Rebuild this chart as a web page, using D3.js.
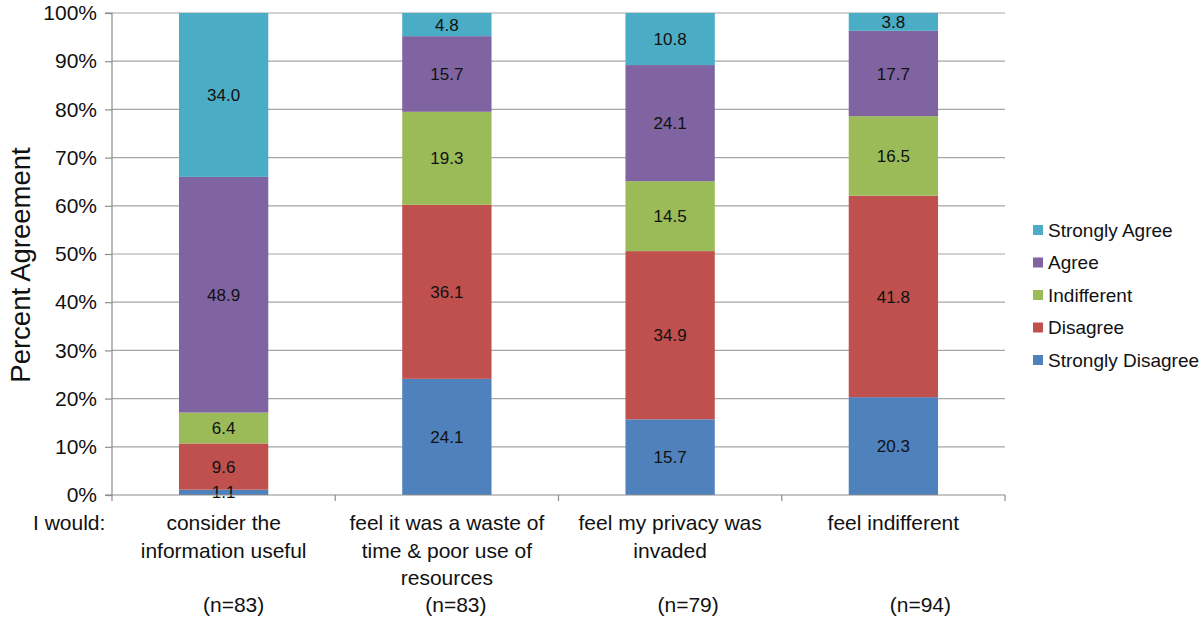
<!DOCTYPE html>
<html><head><meta charset="utf-8">
<script src="https://cdn.jsdelivr.net/npm/d3@7"></script>
<style>
html,body{margin:0;padding:0;background:#fff;}
text{font-family:"Liberation Sans",Arial,Helvetica,sans-serif;fill:#111;}
</style></head>
<body><svg id="chart" width="1200" height="618"></svg>
<script>
// ---- data ----
const categories = ["consider the information useful","feel it was a waste of time & poor use of resources","feel my privacy was invaded","feel indifferent"];
const categoryLines = [["consider the","information useful"],["feel it was a waste of","time & poor use of","resources"],["feel my privacy was","invaded"],["feel indifferent"]];
const sampleSizes = ["(n=83)","(n=83)","(n=79)","(n=94)"];
const seriesNames = ["Strongly Disagree","Disagree","Indifferent","Agree","Strongly Agree"];
const stronglyDisagree = [1.1, 24.1, 15.7, 20.3];
const disagree = [9.6, 36.1, 34.9, 41.8];
const indifferent = [6.4, 19.3, 14.5, 16.5];
const agree = [48.9, 15.7, 24.1, 17.7];
const stronglyAgree = [34.0, 4.8, 10.8, 3.8];
const yTicks = [0,10,20,30,40,50,60,70,80,90,100];
const colors = ["#4F81BD","#C0504D","#9BBB59","#8064A2","#4BACC6"];

// ---- layout ----
(function(){
const svg = d3.select("#chart");
const mLeft = 112, mRight = 1005, mTop = 13, mBottom = 495;
const seriesValues = [stronglyDisagree, disagree, indifferent, agree, stronglyAgree];
const rows = categories.map((c,i)=>{ const r={cat:c}; seriesNames.forEach((s,j)=>r[s]=seriesValues[j][i]); return r; });
const stacked = d3.stack().keys(seriesNames)(rows);

const x = d3.scaleBand().domain(categories).range([mLeft,mRight]).paddingInner(0).paddingOuter(0);
const y = d3.scaleLinear().domain([0,100]).range([mBottom,mTop]);
const barW = x.bandwidth()*0.4;

// gridlines
svg.append("g").selectAll("line").data(yTicks.filter(t=>t>0)).join("line")
  .attr("x1",mLeft).attr("x2",mRight).attr("y1",d=>y(d)).attr("y2",d=>y(d))
  .attr("stroke","#a6a6a6").attr("stroke-width",1.2);

// bars
const g = svg.append("g");
stacked.forEach((layer,j)=>{
  g.append("g").selectAll("rect").data(layer).join("rect")
    .attr("x",d=>x(d.data.cat)+x.bandwidth()/2-barW/2)
    .attr("width",barW)
    .attr("y",d=>y(Math.min(100,d[1])))
    .attr("height",d=>y(d[0])-y(Math.min(100,d[1])))
    .attr("fill",colors[j]);
});
// data labels
stacked.forEach((layer,j)=>{
  g.append("g").selectAll("text").data(layer).join("text")
    .attr("x",d=>x(d.data.cat)+x.bandwidth()/2)
    .attr("y",d=>(y(d[0])+y(Math.min(100,d[1])))/2)
    .attr("dy","0.36em").attr("text-anchor","middle")
    .attr("font-size",17)
    .text(d=>(d[1]-d[0]).toFixed(1));
});

// y axis
const yAxis = d3.axisLeft(y).tickValues(yTicks).tickFormat(d=>d+"%").tickSize(7).tickPadding(8);
const ya = svg.append("g").attr("transform",`translate(${mLeft},0)`).call(yAxis);
ya.select(".domain").attr("stroke","#8c8c8c").attr("stroke-width",1.2).attr("d",`M-7,${mTop}H0V${mBottom}H-7`);
ya.selectAll(".tick line").attr("stroke","#8c8c8c").attr("stroke-width",1.2);
ya.selectAll(".tick text").attr("font-size",21).attr("font-family","Liberation Sans,Arial,sans-serif").attr("fill","#111");

// x axis line and boundary ticks
svg.append("line").attr("x1",mLeft).attr("x2",mRight).attr("y1",mBottom).attr("y2",mBottom)
  .attr("stroke","#8c8c8c").attr("stroke-width",1.2);
svg.append("g").selectAll("line").data(categories.concat(["_end"])).join("line")
  .attr("x1",(d,i)=>mLeft+i*x.step()).attr("x2",(d,i)=>mLeft+i*x.step())
  .attr("y1",mBottom).attr("y2",mBottom+6).attr("stroke","#8c8c8c").attr("stroke-width",1.2);

// category labels
categories.forEach((c,i)=>{
  const t = svg.append("text").attr("text-anchor","middle").attr("font-size",21)
    .attr("x",x(c)+x.bandwidth()/2).attr("y",530);
  categoryLines[i].forEach((ln,k)=>t.append("tspan").attr("x",x(c)+x.bandwidth()/2).attr("dy",k?27.5:0).text(ln));
});
const nOffsets = [10,9,18,27];
svg.append("g").selectAll("text").data(sampleSizes).join("text")
  .attr("text-anchor","middle").attr("font-size",21)
  .attr("x",(d,i)=>x(categories[i])+x.bandwidth()/2+nOffsets[i]).attr("y",612).text(d=>d);
svg.append("text").attr("x",33).attr("y",530).attr("font-size",21).text("I would:");

// y title
svg.append("text").attr("transform","translate(30,265) rotate(-90)")
  .attr("text-anchor","middle").attr("font-size",27.5).text("Percent Agreement");

// legend
const legendOrder = seriesNames.slice().reverse();
const lg = svg.append("g").selectAll("g").data(legendOrder).join("g")
  .attr("transform",(d,i)=>`translate(1033,${230+i*32.5})`);
lg.append("rect").attr("x",0).attr("y",-5).attr("width",10).attr("height",10)
  .attr("fill",d=>colors[seriesNames.indexOf(d)]);
lg.append("text").attr("x",15).attr("dy","0.36em").attr("font-size",19).text(d=>d);
})();
</script></body></html>
